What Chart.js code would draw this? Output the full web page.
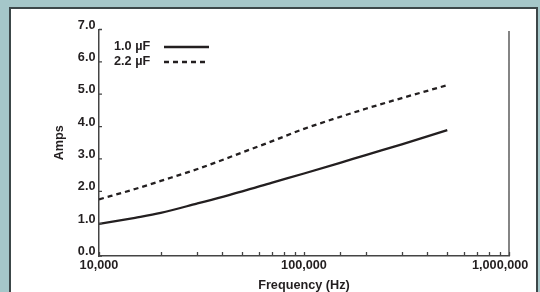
<!DOCTYPE html>
<html>
<head>
  <meta charset="utf-8" />
  <script src="https://cdn.jsdelivr.net/npm/chart.js@4.4.1/dist/chart.umd.min.js"></script>
  <style>
    body { margin:0; background:#a5c7c9; width:540px; height:292px; overflow:hidden; position:relative; }
    #panel { position:absolute; left:9px; top:7px; width:529px; height:300px; box-sizing:border-box;
             background:#fff; border:2px solid #3c4749; }
    #chart { position:absolute; left:0; top:0; }
  </style>
</head>
<body>
<div id="panel"></div>
<canvas id="chart" width="540" height="300"></canvas>

<script>
// values
const freqHz   = [10000, 15000, 20000, 30000, 50000, 70000, 100000, 150000, 200000, 300000, 500000];
const amps1uF  = [0.99, 1.18, 1.33, 1.62, 2.00, 2.27, 2.55, 2.88, 3.12, 3.45, 3.89];
const amps22uF = [1.75, 2.07, 2.32, 2.68, 3.20, 3.55, 3.93, 4.30, 4.55, 4.88, 5.28];
const seriesNames = ['1.0 \u00b5F', '2.2 \u00b5F'];
const xLabelTicks = [10000, 100000, 1000000];

const INK = '#231f20';
const AXIS = '#444';
const FONT = 'Liberation Sans, Arial, Helvetica, sans-serif';

const toPts = ys => freqHz.map((f, i) => ({x: f, y: ys[i]}));

// inward tick marks, right frame line and the legend (text left, line sample right)
const decor = {
  id: 'decor',
  afterDraw(chart) {
    const ctx = chart.ctx, xs = chart.scales.x, ys = chart.scales.y, a = chart.chartArea;
    ctx.save();
    ctx.strokeStyle = AXIS;
    ctx.lineWidth = 1.3;
    ctx.beginPath();
    xs.ticks.forEach(t => {
      const px = Math.round(xs.getPixelForValue(t.value)) + 0.5;
      ctx.moveTo(px, a.bottom); ctx.lineTo(px, a.bottom - 4);
    });
    ys.ticks.forEach(t => {
      const py = ys.getPixelForValue(t.value);
      ctx.moveTo(a.left, py); ctx.lineTo(a.left + 3, py);
    });
    ctx.moveTo(a.right, 31); ctx.lineTo(a.right, a.bottom);
    ctx.stroke();

    ctx.font = 'bold 12.7px ' + FONT;
    ctx.fillStyle = INK;
    ctx.textBaseline = 'middle';
    const rows = [46, 61];
    chart.data.datasets.forEach((ds, i) => {
      ctx.fillText(ds.label, 114, rows[i]);
      ctx.strokeStyle = ds.borderColor;
      ctx.lineWidth = ds.borderWidth;
      ctx.setLineDash(ds.borderDash || []);
      ctx.beginPath();
      ctx.moveTo(164, rows[i] + 1); ctx.lineTo(209, rows[i] + 1);
      ctx.stroke();
    });
    ctx.restore();
  }
};

new Chart(document.getElementById('chart'), {
  type: 'line',
  data: {
    datasets: [
      {label: seriesNames[0], data: toPts(amps1uF), borderColor: INK, borderWidth: 2.3,
       pointRadius: 0, cubicInterpolationMode: 'monotone'},
      {label: seriesNames[1], data: toPts(amps22uF), borderColor: INK, borderWidth: 2.3,
       borderDash: [5, 4], pointRadius: 0, cubicInterpolationMode: 'monotone'}
    ]
  },
  options: {
    responsive: false,
    animation: false,
    layout: { padding: { left: 0, right: 31, top: 29.5, bottom: 0 } },
    plugins: { legend: { display: false }, tooltip: { enabled: false } },
    scales: {
      x: {
        type: 'logarithmic', min: 10000, max: 1000000,
        afterFit: s => { s.height = 44; s.paddingLeft = 0; s.paddingRight = 0; },
        grid: { drawOnChartArea: false, drawTicks: false },
        border: { color: AXIS, width: 1.5 },
        ticks: {
          autoSkip: false, maxRotation: 0, padding: 2, color: INK,
          font: { family: FONT, size: 12.7, weight: 'bold' },
          // the last label sits a little left of its tick in the original
          callback: v => !xLabelTicks.includes(v) ? '' :
            v === 1000000 ? v.toLocaleString('en-US') + '     ' : v.toLocaleString('en-US')
        },
        title: { display: true, text: 'Frequency (Hz)', color: INK, padding: { top: 0, bottom: 7 },
                 font: { family: FONT, size: 12.7, weight: 'bold' } }
      },
      y: {
        min: 0, max: 7,
        afterFit: s => { s.width = 99; },
        grid: { drawOnChartArea: false, drawTicks: false },
        border: { color: AXIS, width: 1.5 },
        ticks: {
          stepSize: 1, padding: 3.5, labelOffset: -4.5, color: INK,
          font: { family: FONT, size: 12.7, weight: 'bold' },
          callback: v => v.toFixed(1)
        },
        title: { display: true, text: 'Amps', color: INK, padding: { top: 52, bottom: 0 },
                 font: { family: FONT, size: 12.7, weight: 'bold' } }
      }
    }
  },
  plugins: [decor]
});
</script>
</body>
</html>
